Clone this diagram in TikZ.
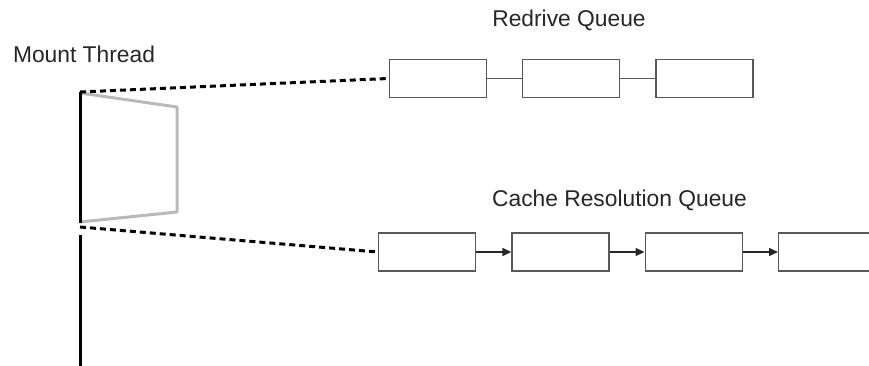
\documentclass[tikz,border=0pt]{standalone}
\usepackage{fontspec}
\setmainfont{Liberation Sans}
\usetikzlibrary{arrows.meta}
\begin{document}
\begin{tikzpicture}[x=1pt,y=-1pt,
  qbox/.style={draw=black!65, line width=1.4pt, fill=white, minimum width=97pt, minimum height=38pt, inner sep=0pt},
  lbl/.style={font=\fontsize{22.8}{26}\selectfont, text=black!85, anchor=base, inner sep=0pt},
  thread/.style={line width=3pt, black},
  span/.style={line width=3pt, gray!55, line join=round},
  link/.style={dash pattern=on 6pt off 4pt, line width=3pt, black},
  chain/.style={draw=black!65, line width=1.4pt},
  next/.style={black!85, line width=1.4pt, -{Triangle[length=9pt,width=8pt]}}
]
\useasboundingbox (0,0) rectangle (869,366);
\clip (0,0) rectangle (869,366);

% labels
\node[lbl] (mt) at (84,63) {Mount Thread};
\node[lbl] (rq) at (569,27) {Redrive Queue};
\node[lbl] (cq) at (619.5,206) {Cache Resolution Queue};

% mount thread timeline
\coordinate (t0) at (80,92);
\coordinate (t1) at (80,223);
\coordinate (t2) at (80,235);
\coordinate (t3) at (80,366);
\coordinate (b0) at (80,227);
\draw[span] (80,93) -- (177,107) -- (177,212) -- (80,222);
\draw[thread] (t0) -- (t1);
\draw[thread] (t2) -- (t3);

% redrive queue
\node[qbox] (r1) at (437.7,78.5) {};
\node[qbox] (r2) at (571,78.5) {};
\node[qbox] (r3) at (704.3,78.5) {};
\draw[chain] (r1) -- (r2);
\draw[chain] (r2) -- (r3);

% cache resolution queue
\node[qbox] (c1) at (427,252) {};
\node[qbox] (c2) at (560.5,252) {};
\node[qbox] (c3) at (693.7,252) {};
\node[qbox] (c4) at (827.2,252) {};
\draw[next] (c1) -- (c2);
\draw[next] (c2) -- (c3);
\draw[next] (c3) -- (c4);

% dashed links from the thread to the queues
\draw[link] (t0) -- (r1.west);
\draw[link] (b0) -- (c1.west);
\end{tikzpicture}
\end{document}
